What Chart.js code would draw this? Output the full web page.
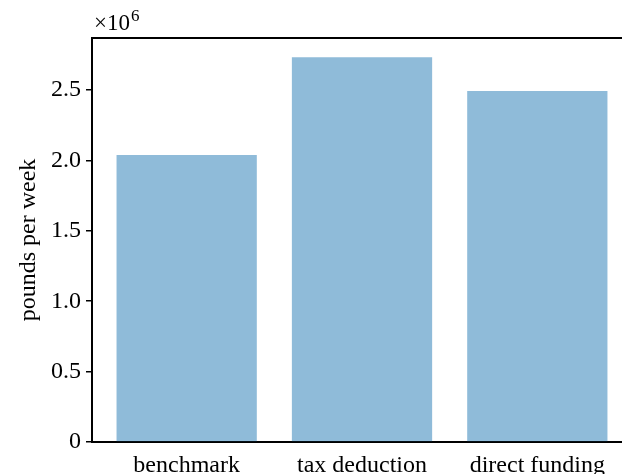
<!DOCTYPE html>
<html>
<head>
<meta charset="utf-8">
<script src="https://cdn.jsdelivr.net/npm/chart.js@4.4.0/dist/chart.umd.min.js"></script>
<style>
  html, body { margin: 0; padding: 0; background: #fff; overflow: hidden; }
  #wrap { position: absolute; left: 0; top: 0; width: 640px; height: 474px; }
</style>
</head>
<body>
<div id="wrap"><canvas id="c"></canvas></div>
<script>
// Weekly amounts under each policy scenario (pounds per week)
const categories = ['benchmark', 'tax deduction', 'direct funding'];
const poundsPerWeek = [2.038e6, 2.734e6, 2.493e6];
const yTickValues = [0, 0.5e6, 1.0e6, 1.5e6, 2.0e6, 2.5e6];

const FONT = '"Liberation Serif", "Times New Roman", serif';

// Top frame line plus the "×10^6" offset label above the y axis
const frameAndOffset = {
  id: 'frameAndOffset',
  afterDraw(chart) {
    const { ctx, chartArea } = chart;
    ctx.save();
    ctx.strokeStyle = '#000';
    ctx.lineWidth = 2;
    ctx.beginPath();
    ctx.moveTo(chartArea.left - 1, chartArea.top);
    ctx.lineTo(chartArea.right, chartArea.top);
    ctx.stroke();

    ctx.fillStyle = '#000';
    ctx.textBaseline = 'alphabetic';
    ctx.textAlign = 'left';
    ctx.font = '23px ' + FONT;
    const x0 = chartArea.left + 2;
    const base = chartArea.top - 8;
    ctx.fillText('×10', x0, base);
    const w = ctx.measureText('×10').width;
    ctx.font = '17px ' + FONT;
    ctx.fillText('6', x0 + w + 1, base - 9);
    ctx.restore();
  }
};

new Chart(document.getElementById('c'), {
  type: 'bar',
  data: {
    datasets: [{
      data: poundsPerWeek.map((v, i) => ({ x: i, y: v })),
      backgroundColor: 'rgba(31,119,180,0.5)',
      borderWidth: 0,
      barPercentage: 0.8,
      categoryPercentage: 1.0
    }]
  },
  options: {
    responsive: true,
    maintainAspectRatio: false,
    animation: false,
    devicePixelRatio: 1,
    layout: { padding: { left: 0, right: 8, top: 38, bottom: 0 } },
    plugins: { legend: { display: false }, tooltip: { enabled: false } },
    scales: {
      x: {
        type: 'linear',
        min: -0.54,
        max: 2.54,
        offset: false,
        afterFit(scale) { scale.height = 32; },
        grid: { display: true, drawOnChartArea: false, drawTicks: false },
        border: { display: true, color: '#000', width: 2 },
        ticks: {
          stepSize: 1,
          includeBounds: false,
          autoSkip: false,
          maxRotation: 0,
          padding: 9,
          color: '#000',
          font: { family: FONT, size: 24 },
          callback: (v) => Number.isInteger(v) ? categories[v] : ''
        }
      },
      y: {
        min: 0,
        max: 2.87e6,
        afterFit(scale) { scale.width = 92; },
        afterBuildTicks(scale) { scale.ticks = yTickValues.map(v => ({ value: v })); },
        grid: { display: true, drawOnChartArea: false, drawTicks: true, tickLength: 6, color: '#000', lineWidth: 1.5 },
        border: { display: true, color: '#000', width: 2 },
        ticks: {
          padding: 5,
          color: '#000',
          font: { family: FONT, size: 24 },
          callback: (v) => v === 0 ? '0' : (v / 1e6).toFixed(1)
        },
        title: {
          display: true,
          text: 'pounds per week',
          color: '#000',
          font: { family: FONT, size: 24 },
          padding: { top: 14, bottom: 0 }
        }
      }
    }
  },
  plugins: [frameAndOffset]
});
</script>
</body>
</html>
